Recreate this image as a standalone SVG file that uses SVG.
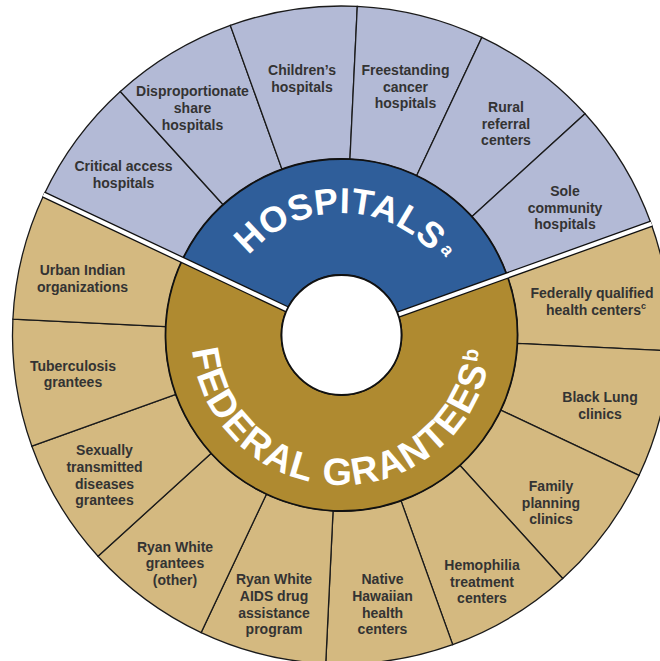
<svg xmlns="http://www.w3.org/2000/svg" width="660" height="661" viewBox="0 0 660 661">
<style>
.hs{fill:#B3BAD6;stroke:#1a1a1a;stroke-width:1.3}
.fs{fill:#D4B980;stroke:#1a1a1a;stroke-width:1.3}
.ring{stroke:#111;stroke-width:1.8}
.lbl{font-family:"Liberation Sans",Arial,sans-serif;font-size:14px;font-weight:bold;fill:#333;text-anchor:middle}
.title{font-family:"Liberation Sans",Arial,sans-serif;font-weight:bold;fill:#fff}
.sepb{stroke:#111;stroke-width:6.6;fill:none}
.sepw{stroke:#fff;stroke-width:4;fill:none}
</style>
<defs>
<path id="hospArc" d="M221.35,313.81 A122,122 0 0 1 461.65,313.81"/>
<path id="fedArc" d="M193.78,308.95 A150,150 0 1 0 489.22,308.95"/>
</defs>
<rect width="660" height="661" fill="#fff"/>
<g id="hospital-types">
<g id="critical-access"><path class="hs" d="M182.32,259.92 L43.93,194.66 A329,329 0 0 1 120.29,91.47 L223.16,204.72 A176,176 0 0 0 182.32,259.92 Z"/><text class="lbl" x="123.5"><tspan x="123.5" y="171">Critical access</tspan><tspan x="123.5" y="188">hospitals</tspan></text></g>
<g id="disproportionate-share"><path class="hs" d="M223.16,204.72 L120.29,91.47 A329,329 0 0 1 230.33,25.35 L282.03,169.35 A176,176 0 0 0 223.16,204.72 Z"/><text class="lbl"><tspan x="192.5" y="96">Disproportionate</tspan><tspan x="192.5" y="113">share</tspan><tspan x="192.5" y="130">hospitals</tspan></text></g>
<g id="childrens"><path class="hs" d="M282.03,169.35 L230.33,25.35 A329,329 0 0 1 357.29,6.38 L349.94,159.2 A176,176 0 0 0 282.03,169.35 Z"/><text class="lbl"><tspan x="302" y="75">Children’s</tspan><tspan x="302" y="92">hospitals</tspan></text></g>
<g id="freestanding-cancer"><path class="hs" d="M349.94,159.2 L357.29,6.38 A329,329 0 0 1 481.84,37.43 L416.58,175.82 A176,176 0 0 0 349.94,159.2 Z"/><text class="lbl"><tspan x="405.5" y="75">Freestanding</tspan><tspan x="405.5" y="91.7">cancer</tspan><tspan x="405.5" y="108.4">hospitals</tspan></text></g>
<g id="rural-referral"><path class="hs" d="M416.58,175.82 L481.84,37.43 A329,329 0 0 1 585.03,113.79 L471.78,216.66 A176,176 0 0 0 416.58,175.82 Z"/><text class="lbl"><tspan x="506" y="112">Rural</tspan><tspan x="506" y="128.7">referral</tspan><tspan x="506" y="145.4">centers</tspan></text></g>
<g id="sole-community"><path class="hs" d="M471.78,216.66 L585.03,113.79 A329,329 0 0 1 651.15,223.83 L507.15,275.53 A176,176 0 0 0 471.78,216.66 Z"/><text class="lbl"><tspan x="565" y="196">Sole</tspan><tspan x="565" y="212.7">community</tspan><tspan x="565" y="229.4">hospitals</tspan></text></g>
</g>
<g id="grantee-types">
<g id="fqhc"><path class="fs" d="M507.15,275.53 L651.15,223.83 A329,329 0 0 1 670.12,350.79 L517.3,343.44 A176,176 0 0 0 507.15,275.53 Z"/><text class="lbl"><tspan x="592" y="298">Federally qualified</tspan><tspan x="596" y="314.7">health centers<tspan font-size="9" baseline-shift="6">c</tspan></tspan></text></g>
<g id="black-lung"><path class="fs" d="M517.3,343.44 L670.12,350.79 A329,329 0 0 1 639.07,475.34 L500.68,410.08 A176,176 0 0 0 517.3,343.44 Z"/><text class="lbl"><tspan x="600" y="402">Black Lung</tspan><tspan x="600" y="418.7">clinics</tspan></text></g>
<g id="family-planning"><path class="fs" d="M500.68,410.08 L639.07,475.34 A329,329 0 0 1 562.71,578.53 L459.84,465.28 A176,176 0 0 0 500.68,410.08 Z"/><text class="lbl"><tspan x="551" y="491">Family</tspan><tspan x="551" y="507.7">planning</tspan><tspan x="551" y="524.4">clinics</tspan></text></g>
<g id="hemophilia"><path class="fs" d="M459.84,465.28 L562.71,578.53 A329,329 0 0 1 452.68,644.65 L400.97,500.65 A176,176 0 0 0 459.84,465.28 Z"/><text class="lbl"><tspan x="482" y="570">Hemophilia</tspan><tspan x="482" y="586.7">treatment</tspan><tspan x="482" y="603.4">centers</tspan></text></g>
<g id="native-hawaiian"><path class="fs" d="M400.97,500.65 L452.68,644.65 A329,329 0 0 1 325.72,663.62 L333.06,510.8 A176,176 0 0 0 400.97,500.65 Z"/><text class="lbl"><tspan x="382.5" y="584.3">Native</tspan><tspan x="382.5" y="601">Hawaiian</tspan><tspan x="382.5" y="617.7">health</tspan><tspan x="382.5" y="634.4">centers</tspan></text></g>
<g id="ryan-white-adap"><path class="fs" d="M333.06,510.8 L325.72,663.62 A329,329 0 0 1 201.16,632.57 L266.42,494.18 A176,176 0 0 0 333.06,510.8 Z"/><text class="lbl"><tspan x="274" y="584.3">Ryan White</tspan><tspan x="274" y="601">AIDS drug</tspan><tspan x="274" y="617.7">assistance</tspan><tspan x="274" y="634.4">program</tspan></text></g>
<g id="ryan-white-other"><path class="fs" d="M266.42,494.18 L201.16,632.57 A329,329 0 0 1 97.97,556.21 L211.22,453.34 A176,176 0 0 0 266.42,494.18 Z"/><text class="lbl"><tspan x="175" y="551.7">Ryan White</tspan><tspan x="175" y="568.4">grantees</tspan><tspan x="175" y="585.1">(other)</tspan></text></g>
<g id="std-grantees"><path class="fs" d="M211.22,453.34 L97.97,556.21 A329,329 0 0 1 31.85,446.18 L175.85,394.47 A176,176 0 0 0 211.22,453.34 Z"/><text class="lbl"><tspan x="104.5" y="455.3">Sexually</tspan><tspan x="104.5" y="472">transmitted</tspan><tspan x="104.5" y="488.7">diseases</tspan><tspan x="104.5" y="505.4">grantees</tspan></text></g>
<g id="tuberculosis"><path class="fs" d="M175.85,394.47 L31.85,446.18 A329,329 0 0 1 12.88,319.22 L165.7,326.56 A176,176 0 0 0 175.85,394.47 Z"/><text class="lbl"><tspan x="73" y="370.7">Tuberculosis</tspan><tspan x="73" y="387.4">grantees</tspan></text></g>
<g id="urban-indian"><path class="fs" d="M165.7,326.56 L12.88,319.22 A329,329 0 0 1 43.93,194.66 L182.32,259.92 A176,176 0 0 0 165.7,326.56 Z"/><text class="lbl"><tspan x="82.5" y="275.3">Urban Indian</tspan><tspan x="82.5" y="292">organizations</tspan></text></g>
</g>
<g id="hospitals-ring">
<path class="ring" d="M287.23,309.41 L182.32,259.92 A176,176 0 0 1 507.15,275.53 L397.97,314.73 A60,60 0 0 0 287.23,309.41 Z" fill="#2F5E9A"/>
<text class="title" font-size="36" letter-spacing="0.3"><textPath href="#hospArc" startOffset="65">HOSPITALS<tspan font-size="18" baseline-shift="8" dx="3">a</tspan></textPath></text>
</g>
<g id="federal-grantees-ring">
<path class="ring" d="M397.97,314.73 L507.15,275.53 A176,176 0 1 1 182.32,259.92 L287.23,309.41 A60,60 0 1 0 397.97,314.73 Z" fill="#AF8A30"/>
<text class="title" font-size="38" letter-spacing="1.5"><textPath href="#fedArc" startOffset="41">FEDERAL GRANTEES<tspan font-size="21" baseline-shift="12" dx="2">b</tspan></textPath></text>
</g>
<g id="connectors">
<path class="sepb" d="M287.23,309.41 L43.48,194.45 M397.97,314.73 L651.62,223.66"/>
<path class="sepw" d="M287.23,309.41 L43.48,194.45 M397.97,314.73 L651.62,223.66"/>
</g>
<g id="hub"><circle class="ring" cx="341.5" cy="335" r="60" fill="#fff"/></g>
</svg>
